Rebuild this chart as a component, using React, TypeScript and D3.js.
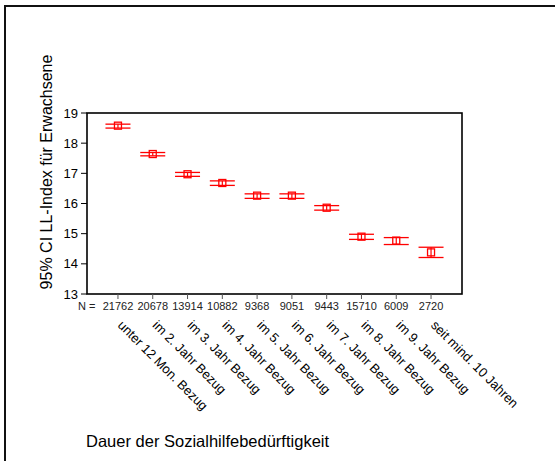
import React, { useRef, useEffect } from 'react';
import * as d3 from 'd3';

const categories = [
  'unter 12 Mon. Bezug',
  'im 2. Jahr Bezug',
  'im 3. Jahr Bezug',
  'im 4. Jahr Bezug',
  'im 5. Jahr Bezug',
  'im 6. Jahr Bezug',
  'im 7. Jahr Bezug',
  'im 8. Jahr Bezug',
  'im 9. Jahr Bezug',
  'seit mind. 10 Jahren',
];
const counts = [21762, 20678, 13914, 10882, 9368, 9051, 9443, 15710, 6009, 2720];
const means = [18.58, 17.64, 16.97, 16.68, 16.26, 16.26, 15.86, 14.9, 14.77, 14.38];
const lower = [18.5, 17.58, 16.9, 16.6, 16.17, 16.17, 15.78, 14.81, 14.64, 14.21];
const upper = [18.63, 17.69, 17.03, 16.75, 16.32, 16.32, 15.93, 14.98, 14.87, 14.55];
const yTicks = [13, 14, 15, 16, 17, 18, 19];

const width = 555;
const height = 461;

const App: React.FC = () => {
  const svgRef = useRef<SVGSVGElement>(null);

  useEffect(() => {
    if (!svgRef.current) return;
    const svg = d3.select(svgRef.current);
    svg.selectAll('*').remove();

    const font = 'Arial, "Liberation Sans", sans-serif';
    const plot = { left: 87, right: 462, top: 113, bottom: 294 };

    svg.append('rect').attr('width', width).attr('height', height).attr('fill', '#fff');

    // outer frame
    svg
      .append('rect')
      .attr('x', 5)
      .attr('y', 6)
      .attr('width', width + 10)
      .attr('height', height + 10)
      .attr('fill', 'none')
      .attr('stroke', '#111')
      .attr('stroke-width', 2);

    const x = d3.scalePoint<string>().domain(categories).range([plot.left, plot.right]).padding(0.89);
    const y = d3.scaleLinear().domain([13, 19]).range([plot.bottom, plot.top]);

    // plot frame
    svg
      .append('rect')
      .attr('x', plot.left)
      .attr('y', plot.top)
      .attr('width', plot.right - plot.left)
      .attr('height', plot.bottom - plot.top)
      .attr('fill', 'none')
      .attr('stroke', '#000')
      .attr('stroke-width', 1.6);

    // y axis ticks
    const yg = svg.append('g');
    yTicks.forEach((t) => {
      yg.append('line')
        .attr('x1', plot.left - 6)
        .attr('x2', plot.left)
        .attr('y1', y(t))
        .attr('y2', y(t))
        .attr('stroke', '#000')
        .attr('stroke-width', 1);
      yg.append('text')
        .attr('x', plot.left - 9)
        .attr('y', y(t))
        .attr('dy', '0.35em')
        .attr('text-anchor', 'end')
        .attr('font-family', font)
        .attr('font-size', 13)
        .text(t);
    });

    // x ticks, N, labels
    const xg = svg.append('g');
    categories.forEach((c, i) => {
      const cx = x(c)!;
      xg.append('line')
        .attr('x1', cx)
        .attr('x2', cx)
        .attr('y1', plot.bottom)
        .attr('y2', plot.bottom + 5)
        .attr('stroke', '#555')
        .attr('stroke-width', 1);
      xg.append('text')
        .attr('x', cx)
        .attr('y', 310)
        .attr('text-anchor', 'middle')
        .attr('font-family', font)
        .attr('font-size', 11)
        .attr('fill', '#222')
        .text(counts[i]);
      xg.append('text')
        .attr('transform', `translate(${cx + 6},${319}) rotate(45)`)
        .attr('dy', '0.75em')
        .attr('text-anchor', 'start')
        .attr('font-family', font)
        .attr('font-size', 13)
        .text(c);
    });
    svg
      .append('text')
      .attr('x', 78)
      .attr('y', 310)
      .attr('font-family', font)
      .attr('font-size', 11)
      .attr('fill', '#222')
      .text('N =');

    // error bars
    const eb = svg.append('g').attr('stroke', '#ff0000').attr('fill', 'none');
    categories.forEach((c, i) => {
      const cx = x(c)!;
      const half = 12.5;
      eb.append('line')
        .attr('x1', cx - half)
        .attr('x2', cx + half)
        .attr('y1', y(upper[i]))
        .attr('y2', y(upper[i]))
        .attr('stroke-width', 1.3);
      eb.append('line')
        .attr('x1', cx - half)
        .attr('x2', cx + half)
        .attr('y1', y(lower[i]))
        .attr('y2', y(lower[i]))
        .attr('stroke-width', 1.3);
      eb.append('line')
        .attr('x1', cx)
        .attr('x2', cx)
        .attr('y1', y(upper[i]))
        .attr('y2', y(lower[i]))
        .attr('stroke-width', 1.2);
      eb.append('rect')
        .attr('x', cx - 3.5)
        .attr('y', y(means[i]) - 3.5)
        .attr('width', 7)
        .attr('height', 7)
        .attr('stroke-width', 1.3);
    });

    // axis titles
    svg
      .append('text')
      .attr('transform', `translate(52,172) rotate(-90)`)
      .attr('text-anchor', 'middle')
      .attr('font-family', font)
      .attr('font-size', 16)
      .text('95% CI LL-Index für Erwachsene');

    svg
      .append('text')
      .attr('x', 86)
      .attr('y', 447)
      .attr('font-family', font)
      .attr('font-size', 16.5)
      .text('Dauer der Sozialhilfebedürftigkeit');
  }, []);

  return (
    <svg
      ref={svgRef}
      width={width}
      height={height}
      style={{ position: 'absolute', left: 0, top: 0, display: 'block' }}
    />
  );
};

export default App;
